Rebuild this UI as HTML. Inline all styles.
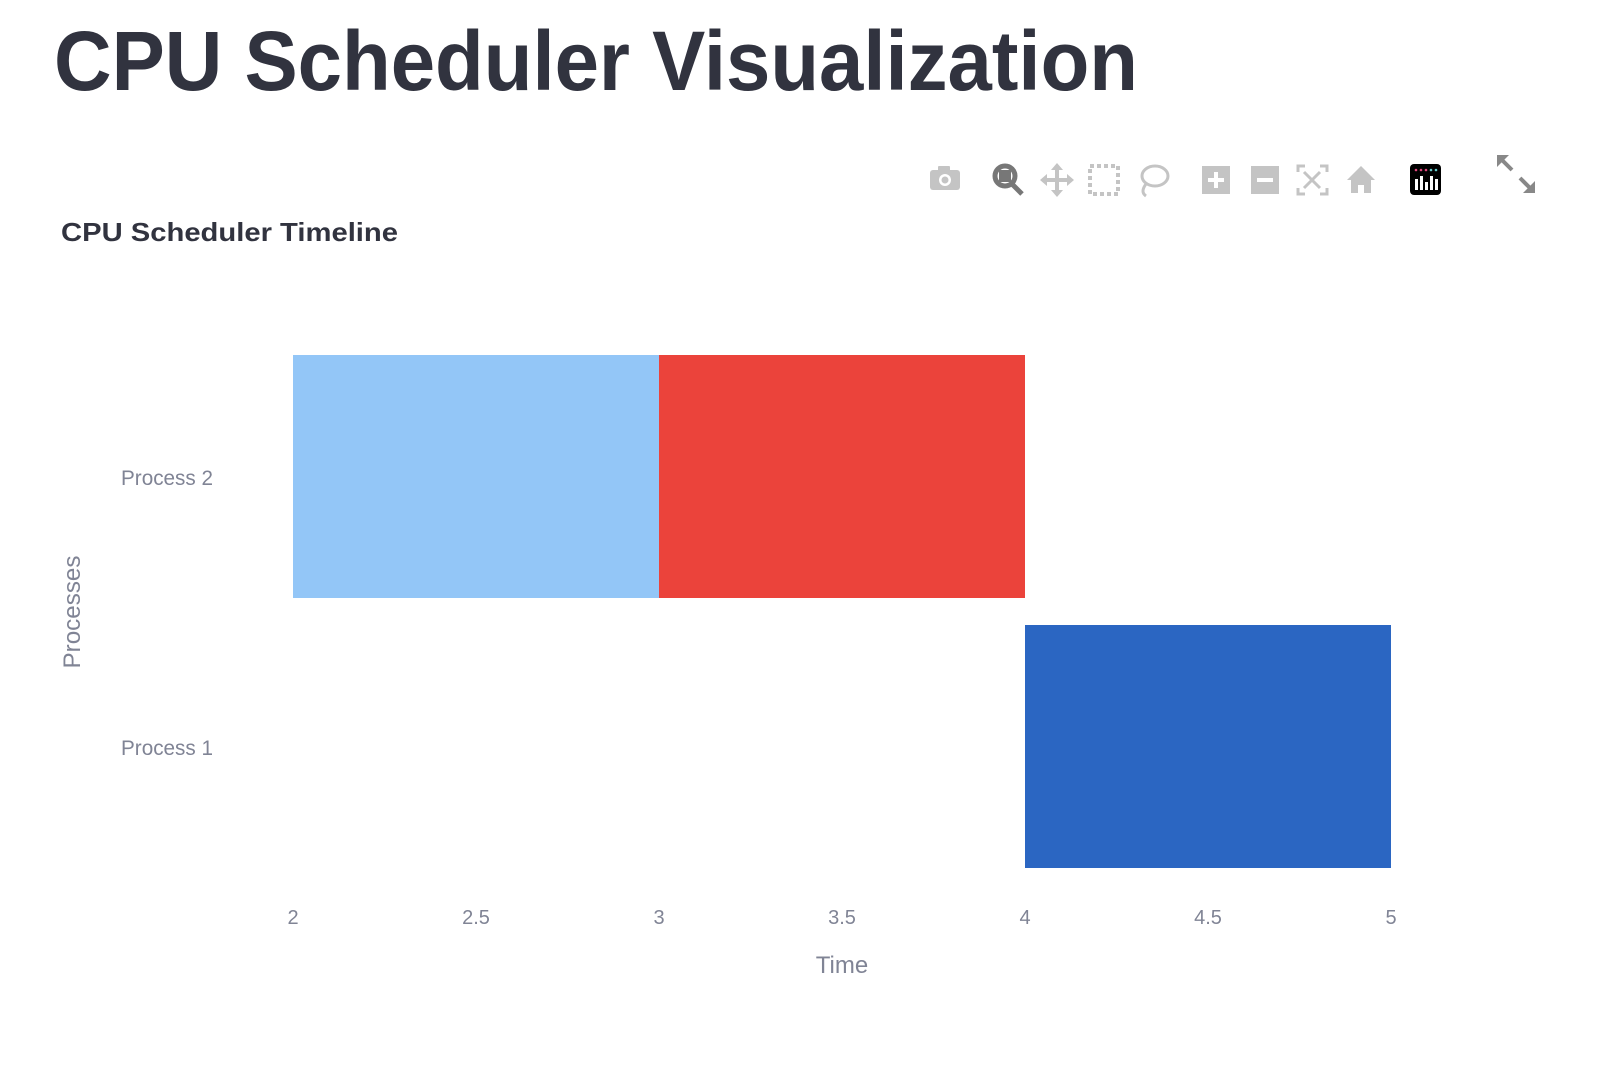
<!DOCTYPE html>
<html><head><meta charset="utf-8"><style>
html,body{margin:0;padding:0;background:#fff;width:1616px;height:1068px;overflow:hidden}
svg{display:block}
text{font-family:"Liberation Sans",sans-serif}
</style></head><body>
<svg width="1616" height="1068" viewBox="0 0 1616 1068" xmlns="http://www.w3.org/2000/svg">
<text x="54" y="90" font-size="84" font-weight="bold" fill="#31333f" textLength="1084" lengthAdjust="spacingAndGlyphs">CPU Scheduler Visualization</text>
<text x="61" y="241" font-size="26" font-weight="bold" fill="#31333f" textLength="337" lengthAdjust="spacingAndGlyphs">CPU Scheduler Timeline</text>
<!-- toolbar -->
<g fill="#c4c4c4">
 <rect x="930" y="170" width="30" height="20" rx="3"/><rect x="938" y="166" width="12" height="6" rx="1"/>
 <circle cx="945" cy="180" r="6" fill="#fff"/><circle cx="945" cy="180" r="3.5"/>
</g>
<g>
 <circle cx="1005" cy="176" r="10" fill="none" stroke="#777" stroke-width="5"/>
 <rect x="999" y="170" width="12" height="12" fill="#777"/>
 <line x1="1012" y1="184" x2="1022" y2="194" stroke="#777" stroke-width="5"/>
</g>
<g stroke="#c4c4c4" stroke-width="4" fill="#c4c4c4">
 <line x1="1057" y1="167" x2="1057" y2="193"/><line x1="1044" y1="180" x2="1070" y2="180"/>
</g>
<path d="M1057 163l-6 7h12zM1057 197l-6-7h12zM1040 180l7-6v12zM1074 180l-7-6v12z" fill="#c4c4c4"/>
<rect x="1090" y="166" width="28" height="28" fill="none" stroke="#c4c4c4" stroke-width="4" stroke-dasharray="4 3"/>
<ellipse cx="1155" cy="176" rx="13" ry="10" fill="none" stroke="#c4c4c4" stroke-width="3"/>
<path d="M1146 184 q-6 8 0 12" fill="none" stroke="#c4c4c4" stroke-width="3"/>
<rect x="1202" y="166" width="28" height="28" fill="#c4c4c4"/><path d="M1216 172v16M1208 180h16" stroke="#fff" stroke-width="4"/>
<rect x="1251" y="166" width="28" height="28" fill="#c4c4c4"/><path d="M1257 180h16" stroke="#fff" stroke-width="4"/>
<g stroke="#c4c4c4" stroke-width="3" fill="none">
 <path d="M1298 172v-6h7M1320 166h7v6M1327 188v6h-7M1305 194h-7v-6"/>
 <path d="M1304 172l16 16M1320 172l-16 16"/>
</g>
<path d="M1347 180l14-14 14 14h-4v13h-7v-8h-6v8h-7v-13z" fill="#c4c4c4"/>
<rect x="1410" y="164" width="31" height="31" rx="4" fill="#000"/>
<g fill="#fff"><rect x="1415" y="179" width="3" height="11"/><rect x="1420" y="176" width="3" height="14"/><rect x="1425" y="182" width="3" height="8"/><rect x="1430" y="176" width="3" height="14"/><rect x="1435" y="179" width="3" height="11"/></g>
<g fill="#e0457b"><circle cx="1416" cy="170" r="1.3"/><circle cx="1421" cy="170" r="1.3"/><circle cx="1426" cy="170" r="1.3"/></g>
<circle cx="1431" cy="170" r="1.3" fill="#6cc"/><circle cx="1436" cy="170" r="1.3" fill="#6cc"/>
<g fill="#888" stroke="#888" stroke-width="4">
 <path d="M1500 158l12 12M1520 178l12 12"/>
</g>
<path d="M1497 155h12l-12 12z M1535 193h-12l12-12z" fill="#888"/>
<!-- bars -->
<rect x="293" y="355" width="366" height="243" fill="#93c6f7"/>
<rect x="659" y="355" width="366" height="243" fill="#eb433b"/>
<rect x="1025" y="625" width="366" height="243" fill="#2b66c2"/>
<g fill="#808495" font-size="21">
 <text x="121" y="485" textLength="92" lengthAdjust="spacingAndGlyphs">Process 2</text>
 <text x="121" y="755" textLength="92" lengthAdjust="spacingAndGlyphs">Process 1</text>
 <g text-anchor="middle" font-size="20">
  <text x="293" y="924">2</text><text x="476" y="924">2.5</text><text x="659" y="924">3</text>
  <text x="842" y="924">3.5</text><text x="1025" y="924">4</text><text x="1208" y="924">4.5</text><text x="1391" y="924">5</text>
 </g>
 <text x="842" y="973" text-anchor="middle" font-size="24">Time</text>
 <text transform="translate(80,612) rotate(-90)" text-anchor="middle" font-size="24" textLength="113" lengthAdjust="spacingAndGlyphs">Processes</text>
</g>
</svg>
</body></html>
